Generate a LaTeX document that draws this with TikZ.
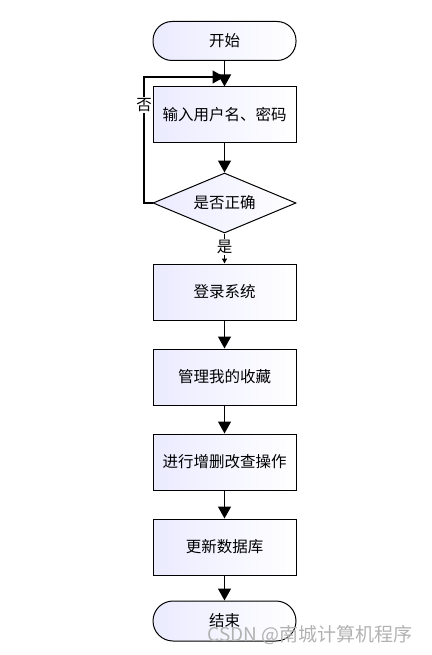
\documentclass[tikz,border=0pt]{standalone}
\usepackage{fontspec}
\setmainfont{Noto Sans CJK SC}
\usetikzlibrary{shapes.geometric,arrows.meta}
\begin{document}
\begin{tikzpicture}[x=1pt,y=-1pt,
  txt/.style={font=\fontsize{15.5}{18}\selectfont},
  box/.style={txt,draw=black,line width=1pt,minimum width=143pt,minimum height=56pt,left color=blue!8,right color=white,inner sep=0pt},
  term/.style={txt,draw=black,line width=1pt,rounded corners=19pt,minimum width=143pt,minimum height=39pt,left color=blue!8,right color=white,inner sep=0pt},
  dia/.style={txt,draw=black,line width=1pt,diamond,aspect=2.4,minimum width=143pt,minimum height=60pt,inner sep=0pt,left color=blue!8,right color=white},
  arr/.style={line width=1.3pt,-{Triangle[length=12pt,width=13pt]}},
  sarr/.style={line width=1.3pt,-{Triangle[length=5pt,width=5pt]}},
  lab/.style={txt,fill=white,inner sep=1pt}]
\useasboundingbox (0,0) rectangle (431,655);
\node[term] (start) at (224.5,41) {开始};
\node[box] (input) at (224.5,115) {输入用户名、密码};
\node[dia] (check) at (224.5,203) {是否正确};
\node[box] (login) at (224.5,292) {登录系统};
\node[box] (fav) at (224.5,377) {管理我的收藏};
\node[box] (crud) at (224.5,462) {进行增删改查操作};
\node[box] (db) at (224.5,547) {更新数据库};
\node[term,minimum height=40pt,rounded corners=20pt] (end) at (224.5,621) {结束};
\coordinate (join) at (224.5,77);
\coordinate (lc) at (144,203);
\coordinate (lt) at (144,77);
\draw[arr] (start) -- (input);
\draw[arr] (input) -- (check);
\draw[arr] (check.west) -- (lc) -- (lt) -- (join);
\node[lab] (no) at (144,105) {否};
\draw[sarr] (check.south) -- (login.north);
\node[lab] (yes) at (224.5,247) {是};
\draw[arr] (login) -- (fav);
\draw[arr] (fav) -- (crud);
\draw[arr] (crud) -- (db);
\draw[arr] (db) -- (end);
\node[font=\fontsize{19}{22}\selectfont,text=black!30] (wm) at (310,635) {CSDN @南城计算机程序};
\end{tikzpicture}
\end{document}
